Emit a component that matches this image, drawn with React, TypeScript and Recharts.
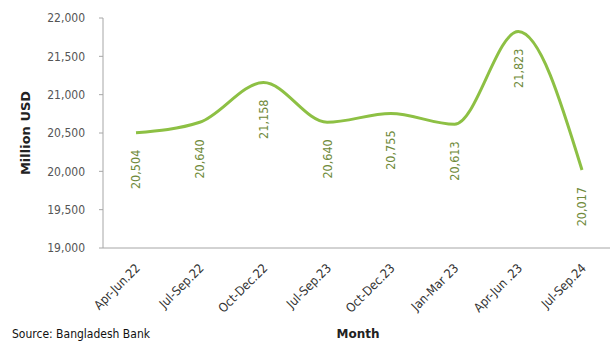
import { LineChart, Line, XAxis, YAxis } from "recharts";

const quarters = [
  "Apr-Jun.22",
  "Jul-Sep.22",
  "Oct-Dec.22",
  "Jul-Sep.23",
  "Oct-Dec.23",
  "Jan-Mar 23",
  "Apr-Jun .23",
  "Jul-Sep.24",
];
const reserves = [20504, 20640, 21158, 20640, 20755, 20613, 21823, 20017];
const yTicks = [19000, 19500, 20000, 20500, 21000, 21500, 22000];

const data = quarters.map((q, i) => ({ quarter: q, value: reserves[i] }));

const FONT = "'DejaVu Sans Condensed', 'DejaVu Sans', sans-serif";
const BOLD_FONT = "'DejaVu Sans', sans-serif";
const fmt = (v: number) => v.toLocaleString("en-US");

function QuarterTick({ x, y, payload }: { x?: number; y?: number; payload?: { value: string } }) {
  return (
    <g transform={`translate(${(x ?? 0) + 2},${(y ?? 0) + 16})`}>
      <text
        transform="rotate(-45)"
        textAnchor="end"
        dy={4}
        fontSize={12.5}
        fontFamily={FONT}
        fill="#333"
      >
        {payload?.value}
      </text>
    </g>
  );
}

function ValueLabel(props: { x?: number; y?: number; value?: number }) {
  const x = Number(props.x ?? 0);
  const y = Number(props.y ?? 0) + 17;
  return (
    <text
      x={x}
      y={y}
      transform={`rotate(-90, ${x}, ${y})`}
      textAnchor="end"
      dominantBaseline="central"
      fontSize={12.5}
      fontFamily={FONT}
      fill="#6f8a3a"
    >
      {fmt(Number(props.value))}
    </text>
  );
}

export default function App() {
  return (
    <div style={{ position: "absolute", left: 0, top: 0, width: 610, height: 342, background: "#fff" }}>
      <LineChart
        width={610}
        height={342}
        data={data}
        margin={{ top: 18, right: 0, bottom: 0, left: 0 }}
      >
        <XAxis
          dataKey="quarter"
          height={94}
          padding={{ left: 33, right: 28 }}
          tick={<QuarterTick />}
          tickLine={false}
          tickSize={0}
          axisLine={{ stroke: "#a6a6a6" }}
          interval={0}
        />
        <YAxis
          domain={[19000, 22000]}
          ticks={yTicks}
          tickFormatter={fmt}
          width={103}
          tickSize={4}
          tickMargin={14}
          tick={{ fontSize: 12, fill: "#555", fontFamily: FONT }}
          tickLine={{ stroke: "#a6a6a6" }}
          axisLine={{ stroke: "#a6a6a6" }}
          allowDataOverflow
        />
        <Line
          dataKey="value"
          type="monotone"
          stroke="#8dc044"
          strokeWidth={3}
          dot={false}
          activeDot={false}
          label={<ValueLabel />}
          isAnimationActive={false}
        />
      </LineChart>
      <div
        style={{
          position: "absolute",
          left: 25,
          top: 133,
          transform: "translate(-50%, -50%) rotate(-90deg)",
          fontFamily: BOLD_FONT,
          fontWeight: "bold",
          fontSize: 13,
          color: "#222",
          whiteSpace: "nowrap",
        }}
      >
        Million USD
      </div>
      <div
        style={{
          position: "absolute",
          left: 358,
          top: 334,
          transform: "translate(-50%, -50%)",
          fontFamily: BOLD_FONT,
          fontWeight: "bold",
          fontSize: 12,
          color: "#222",
          whiteSpace: "nowrap",
        }}
      >
        Month
      </div>
      <div
        style={{
          position: "absolute",
          left: 12,
          top: 334,
          transform: "translateY(-50%)",
          fontFamily: FONT,
          fontSize: 12,
          color: "#111",
          whiteSpace: "nowrap",
        }}
      >
        Source: Bangladesh Bank
      </div>
    </div>
  );
}
